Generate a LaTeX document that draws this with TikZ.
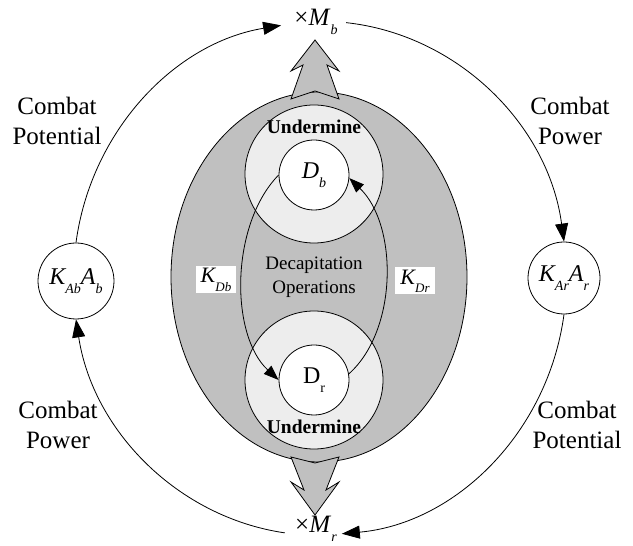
\documentclass[tikz,border=0pt]{standalone}
\usepackage{fontspec}
\setmainfont{Liberation Serif}
\usetikzlibrary{arrows.meta}
\definecolor{ellgray}{HTML}{C0C0C0}
\definecolor{ringgray}{HTML}{EDEDED}
\newcommand\lo[2][13]{\raisebox{-0.38em}{\fontsize{#1}{#1}\selectfont #2}}
\begin{document}
\begin{tikzpicture}[x=1pt,y=1pt, line width=0.8pt,
  bigtext/.style={font=\fontsize{25}{30}\selectfont, align=center, inner sep=0},
  midtext/.style={font=\fontsize{19}{24}\selectfont, align=center, inner sep=0},
  ring/.style={circle, draw, fill=ringgray, minimum size=138pt, inner sep=0},
  core/.style={circle, draw, fill=white, minimum size=70pt, inner sep=0, font=\fontsize{24}{24}\selectfont},
  outercirc/.style={circle, draw, fill=white, inner sep=0, font=\fontsize{24}{24}\selectfont},
  kbox/.style={fill=white, minimum width=40pt, minimum height=27pt, inner sep=0, font=\fontsize{22}{22}\selectfont},
  bigtip/.style={-{Triangle[length=18pt,width=13pt]}},
  bigtipstart/.style={{Triangle[length=18pt,width=13pt]}-},
  smalltip/.style={-{Triangle[length=15pt,width=11pt]}},
  fatarrow/.style={draw, fill=ellgray, line join=miter}]
\useasboundingbox (0,0) rectangle (633,546);

% big ellipse
\path[draw, fill=ellgray] (319,269) ellipse [x radius=148, y radius=185];

% fat grey arrows
\path[fatarrow] (315,506) -- (339,475) -- (327,481) -- (339,447) -- (315,455)
  -- (291,447) -- (303,481) -- (291,475) -- cycle;
\path[fatarrow] (315,31) -- (339,64) -- (326,56) -- (339,89) -- (315,83)
  -- (291,89) -- (304,56) -- (291,64) -- cycle;

% rings and cores
\node[ring] (Rb) at (314,372) {};
\node[ring] (Rr) at (314,166) {};
\node[core] (Db) at (314,371) {\itshape D\lo[14]{b}};
\node[core] (Dr) at (314,166) {D\lo[14]{r}};

\node[midtext, font=\fontsize{19.5}{24}\selectfont\bfseries] (Ub) at (314,419) {Undermine};
\node[midtext, font=\fontsize{19.5}{24}\selectfont\bfseries] (Ur) at (314,119) {Undermine};
\node[midtext] (DO) at (314,269) {Decapitation\\Operations};

% inner curved arrows
\draw[smalltip] (Db.west) .. controls (230,321) and (230,211) .. (Dr.west);
\draw[smalltip] (Dr.10) .. controls (398,216) and (398,321) .. (Db.-5);

\node[kbox] (KDb) at (216,266) {\itshape K\lo{Db}};
\node[kbox] (KDr) at (415,265) {\itshape K\lo{Dr}};

% outer nodes
\node[outercirc, minimum size=76pt] (KA) at (76,265) {\itshape K\lo[14]{Ab}A\lo[14]{b}};
\node[outercirc, minimum size=72pt] (KR) at (564,268) {\itshape K\lo[14]{Ar}A\lo[14]{r}};
\node[bigtext] (Mb) at (316,524) {×\textit{M}\lo[14]{\textit{b}}};
\node[bigtext] (Mr) at (316,17) {×\textit{M}\lo[14]{\textit{r}}};

\node[bigtext] (CPtl) at (57,425) {Combat\\Potential};
\node[bigtext] (CPtr) at (570,425) {Combat\\Power};
\node[bigtext] (CPbl) at (58,121) {Combat\\Power};
\node[bigtext] (CPbr) at (577,121) {Combat\\Potential};

% outer arcs
\draw[bigtip] (KA.north) arc[start angle=172, end angle=99, x radius=246, y radius=256];
\draw[bigtipstart] (KR.north) arc[start angle=8, end angle=84, x radius=246, y radius=256];
\draw[bigtip] (KR.south) arc[start angle=-8, end angle=-85, x radius=246, y radius=256];
\draw[bigtipstart] (KA.south) arc[start angle=-171, end angle=-98, x radius=246, y radius=256];
\end{tikzpicture}
\end{document}
